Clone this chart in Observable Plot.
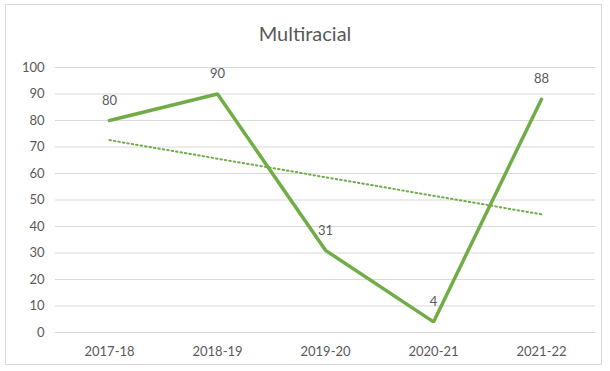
<!DOCTYPE html>
<html>
<head>
<meta charset="utf-8">
<script src="https://cdn.jsdelivr.net/npm/d3@7"></script>
<script src="https://cdn.jsdelivr.net/npm/@observablehq/plot@0.6"></script>
<style>
  html, body { margin: 0; padding: 0; background: #fff; }
  #frame { position: absolute; left: 5px; top: 4px; width: 597px; height: 361px; border: 1px solid #d9d9d9; box-sizing: border-box; }
  #title { position: absolute; left: 0; top: 19px; width: 610px; text-align: center; font-family: Lato, "Open Sans", sans-serif; font-size: 20px; color: #595959; line-height: 28px; }
  #chart { position: absolute; left: 0; top: 50px; }
</style>
</head>
<body>
<div id="frame"></div>
<div id="title">Multiracial</div>
<div id="chart"></div>
<script>
const years = ["2017-18", "2018-19", "2019-20", "2020-21", "2021-22"];
const values = [80, 90, 31, 4, 88];
const yTicks = [0, 10, 20, 30, 40, 50, 60, 70, 80, 90, 100];

const data = years.map((label, i) => ({idx: i + 1, label, value: values[i]}));
const green = "#70ad47";
const gray = "#595959";

const chart = Plot.plot({
  width: 610,
  height: 321,
  marginTop: 17,
  marginBottom: 39,
  marginLeft: 55,
  marginRight: 15,
  style: {fontFamily: "Lato, 'Open Sans', sans-serif", fontSize: "13px", color: gray, background: "transparent"},
  x: {domain: [0.5, 5.5], axis: null},
  y: {domain: [0, 100], axis: null},
  marks: [
    Plot.gridY(yTicks, {stroke: "#d9d9d9", strokeOpacity: 1, strokeWidth: 1}),
    Plot.axisY(yTicks, {tickSize: 0, tickPadding: 11, fill: gray, fontSize: 13, label: null}),
    Plot.axisX(years.map((d, i) => i + 1), {tickSize: 0, tickPadding: 14, tickFormat: (d) => years[d - 1], fill: gray, fontSize: 13, label: null}),
    Plot.linearRegressionY(data, {x: "idx", y: "value", ci: 0, stroke: green, strokeWidth: 2, strokeDasharray: "1.5,3", strokeLinecap: "round"}),
    Plot.line(data, {x: "idx", y: "value", stroke: green, strokeWidth: 3.5, strokeLinejoin: "miter"}),
    Plot.text(data, {x: "idx", y: "value", text: (d) => String(d.value), dy: -20, fill: gray, fontSize: 13})
  ]
});
document.getElementById("chart").appendChild(chart);
</script>
</body>
</html>
